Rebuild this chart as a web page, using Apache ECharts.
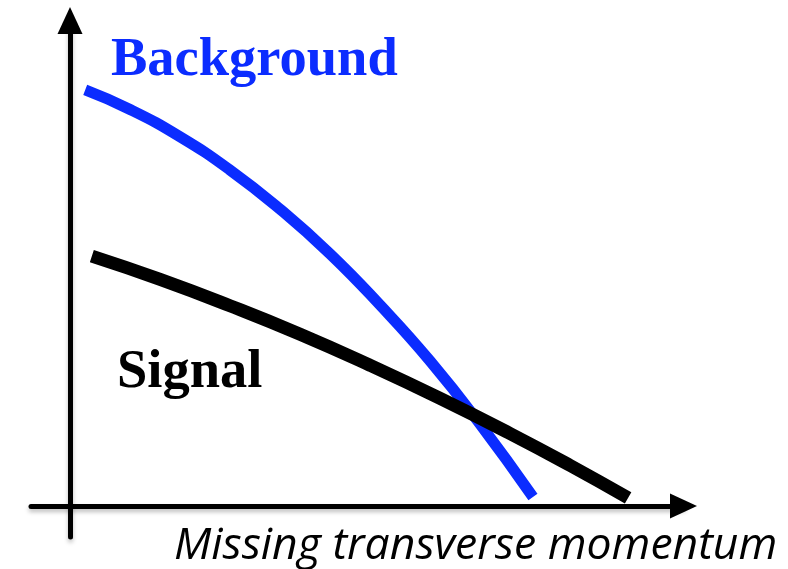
<!DOCTYPE html>
<html>
<head>
<meta charset="utf-8">
<script src="https://cdn.jsdelivr.net/npm/echarts@6/dist/echarts.min.js"></script>
<style>
  html, body { margin: 0; padding: 0; background: #fff; }
  #chart { width: 788px; height: 569px; }
</style>
</head>
<body>
<div id="chart"></div>
<script>
// Sketch values (arbitrary units, axes cross at 0)
const backgroundX = [0.39, 1.54, 2.82, 4.10, 5.38, 6.67, 7.95, 9.23, 10.51, 11.87];
const backgroundY = [13.42, 12.79, 11.91, 10.84, 9.58, 8.13, 6.48, 4.68, 2.65, 0.29];
const signalX = [0.56, 2.31, 4.10, 5.90, 7.69, 9.49, 11.28, 12.82, 14.31];
const signalY = [8.06, 7.31, 6.46, 5.54, 4.54, 3.47, 2.34, 1.31, 0.26];

const xRange = [-1, 15.73];
const yRange = [-1, 15.66];

const toPairs = (xs, ys) => xs.map((x, i) => [x, ys[i]]);

const chart = echarts.init(document.getElementById("chart"), null, { renderer: "canvas" });

// shared style for the two hand-drawn axes
const axisLineStyle = {
  color: "#000",
  width: 5,
  shadowColor: "rgba(0,0,0,0.25)",
  shadowBlur: 4,
  shadowOffsetY: 3,
};

const option = {
  backgroundColor: "#fff",
  animation: false,
  grid: { left: 31, right: 104.5, top: 20.5, bottom: 32 },
  xAxis: {
    type: "value",
    min: xRange[0],
    max: xRange[1],
    axisLine: {
      show: true,
      onZero: true,
      symbol: ["none", "triangle"],
      symbolSize: [25, 27],
      lineStyle: axisLineStyle,
    },
    axisTick: { show: false },
    axisLabel: { show: false },
    splitLine: { show: false },
  },
  yAxis: {
    type: "value",
    min: yRange[0],
    max: yRange[1],
    axisLine: {
      show: true,
      onZero: true,
      symbol: ["none", "triangle"],
      symbolSize: [25, 27],
      lineStyle: axisLineStyle,
    },
    axisTick: { show: false },
    axisLabel: { show: false },
    splitLine: { show: false },
  },
  series: [
    {
      name: "Background",
      type: "line",
      smooth: true,
      showSymbol: false,
      data: toPairs(backgroundX, backgroundY),
      lineStyle: { color: "#0b2cff", width: 11, cap: "butt" },
      z: 3,
    },
    {
      name: "Signal",
      type: "line",
      smooth: true,
      showSymbol: false,
      data: toPairs(signalX, signalY),
      lineStyle: { color: "#000", width: 13, cap: "butt" },
      z: 4,
    },
  ],
  graphic: [
    {
      type: "text",
      x: 111,
      y: 61,
      style: {
        text: "Background",
        font: "bold 54.5px 'Liberation Serif'",
        fill: "#0b2cff",
        verticalAlign: "middle",
      },
    },
    {
      type: "text",
      x: 117,
      y: 373,
      style: {
        text: "Signal",
        font: "bold 54.5px 'Liberation Serif'",
        fill: "#000",
        verticalAlign: "middle",
      },
    },
    {
      type: "text",
      x: 174,
      y: 546,
      style: {
        text: "Missing transverse momentum",
        font: "italic 44.5px 'Open Sans'",
        fill: "#000",
        verticalAlign: "middle",
      },
    },
  ],
};

chart.setOption(option);
</script>
</body>
</html>
